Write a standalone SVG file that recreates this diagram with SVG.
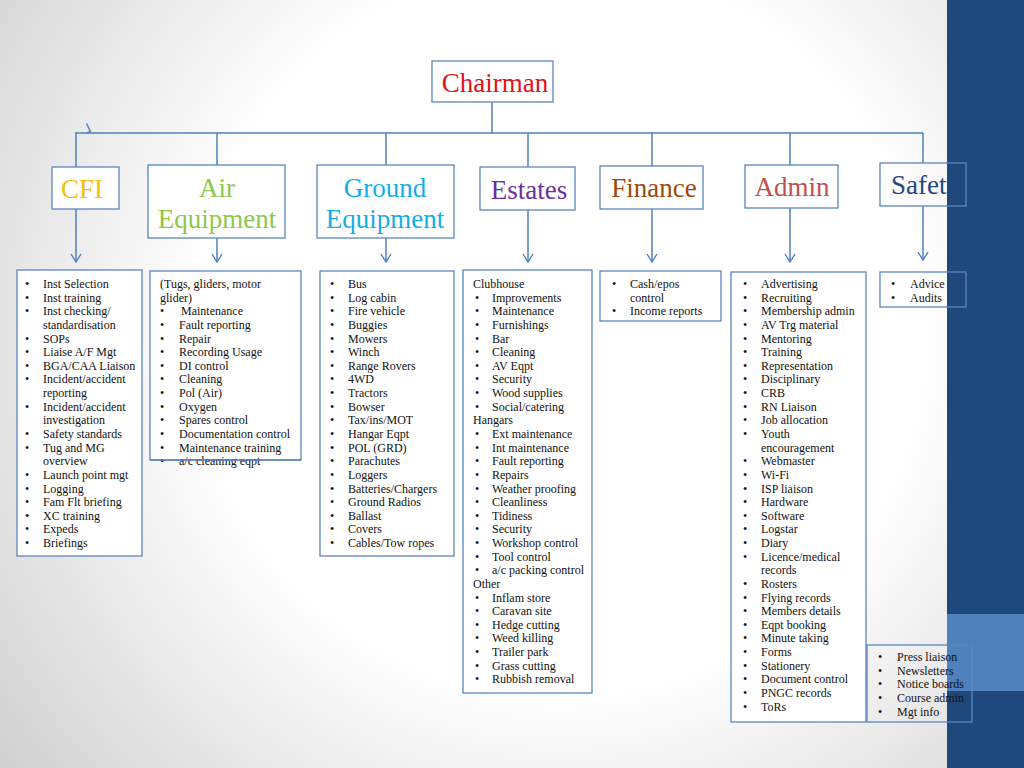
<svg xmlns="http://www.w3.org/2000/svg" width="1024" height="768" viewBox="0 0 1024 768">
<defs>
<radialGradient id="bg" cx="560" cy="330" r="720" gradientUnits="userSpaceOnUse">
<stop offset="0.5" stop-color="#ffffff"/>
<stop offset="1" stop-color="#cfcfcf"/>
</radialGradient>
<marker id="arr" viewBox="0 0 10 12" refX="9" refY="6" markerWidth="10" markerHeight="12" markerUnits="userSpaceOnUse" orient="auto">
<path d="M1,1 L9,6 L1,11" fill="none" stroke="#4f81bd" stroke-width="1.4"/>
</marker>
<style>
.box{fill:#ffffff;stroke:#5b86c0;stroke-width:1.3}
.lst{fill:none;stroke:#5b86c0;stroke-width:1.3}
.con{fill:none;stroke:#4f81bd;stroke-width:1.5}
.h{font-family:"Liberation Serif",serif;font-size:27px;text-anchor:middle}
.t{font-family:"Liberation Serif",serif;font-size:12px;fill:#111111}
</style>
</defs>
<rect width="1024" height="768" fill="url(#bg)"/>
<rect x="947" y="0" width="77" height="768" fill="#1f497d"/>
<rect x="947" y="614" width="77" height="77" fill="#4f81bd"/>

<g id="connectors">
<path class="con" d="M492,102 V133 M75,133 H923 M76,133 V167 M217,133 V165 M386,133 V165 M528,133 V167 M652,133 V166 M790,133 V165 M923,133 V163"/>
<path class="con" d="M86.5,123.5 L90.5,131.5 L87,133"/>
<path class="con" marker-end="url(#arr)" d="M76,209 V262"/>
<path class="con" marker-end="url(#arr)" d="M217,238 V262"/>
<path class="con" marker-end="url(#arr)" d="M386,238 V262"/>
<path class="con" marker-end="url(#arr)" d="M528,210 V262"/>
<path class="con" marker-end="url(#arr)" d="M652,209 V262"/>
<path class="con" marker-end="url(#arr)" d="M790,208 V262"/>
<path class="con" marker-end="url(#arr)" d="M923,206 V260"/>
</g>

<g id="chairman">
<rect class="box" x="432" y="61" width="121" height="41"/>
<text class="h" x="495" y="92" fill="#e3131b">Chairman</text>
</g>
<g id="cfi">
<rect class="box" x="52" y="167" width="67" height="42"/>
<text class="h" x="82" y="198" fill="#f5bf0f">CFI</text>
</g>
<g id="air-equipment">
<rect class="box" x="148" y="165" width="137" height="73"/>
<text class="h" x="217" y="197" fill="#8cc84b">Air</text>
<text class="h" x="217" y="228" fill="#8cc84b">Equipment</text>
</g>
<g id="ground-equipment">
<rect class="box" x="317" y="165" width="137" height="73"/>
<text class="h" x="385" y="197" fill="#14aee6">Ground</text>
<text class="h" x="385" y="228" fill="#14aee6">Equipment</text>
</g>
<g id="estates">
<rect class="box" x="480" y="167" width="95" height="43"/>
<text class="h" x="529" y="199" fill="#6b2fa0">Estates</text>
</g>
<g id="finance">
<rect class="box" x="600" y="166" width="103" height="43"/>
<text class="h" x="654" y="197" fill="#9a4a0c">Finance</text>
</g>
<g id="admin">
<rect class="box" x="745" y="165" width="93" height="43"/>
<text class="h" x="792" y="196" fill="#c0504d">Admin</text>
</g>
<g id="safety">
<rect class="lst" x="880" y="163" width="86" height="43"/>
<text class="h" x="891" y="194" fill="#1f497d" style="text-anchor:start">Safety</text>
</g>

<g id="cfi-list">
<rect class="box" x="17" y="270" width="125" height="286"/>
<text class="t">
<tspan x="25" y="288">•</tspan><tspan x="43">Inst Selection</tspan>
<tspan x="25" y="301.6">•</tspan><tspan x="43">Inst training</tspan>
<tspan x="25" y="315.3">•</tspan><tspan x="43">Inst checking/</tspan>
<tspan x="43" y="328.9">standardisation</tspan>
<tspan x="25" y="342.5">•</tspan><tspan x="43">SOPs</tspan>
<tspan x="25" y="356.2">•</tspan><tspan x="43">Liaise A/F Mgt</tspan>
<tspan x="25" y="369.8">•</tspan><tspan x="43">BGA/CAA Liaison</tspan>
<tspan x="25" y="383.4">•</tspan><tspan x="43">Incident/accident</tspan>
<tspan x="43" y="397">reporting</tspan>
<tspan x="25" y="410.7">•</tspan><tspan x="43">Incident/accident</tspan>
<tspan x="43" y="424.3">investigation</tspan>
<tspan x="25" y="437.9">•</tspan><tspan x="43">Safety standards</tspan>
<tspan x="25" y="451.6">•</tspan><tspan x="43">Tug and MG</tspan>
<tspan x="43" y="465.2">overview</tspan>
<tspan x="25" y="478.8">•</tspan><tspan x="43">Launch point mgt</tspan>
<tspan x="25" y="492.5">•</tspan><tspan x="43">Logging</tspan>
<tspan x="25" y="506.1">•</tspan><tspan x="43">Fam Flt briefing</tspan>
<tspan x="25" y="519.7">•</tspan><tspan x="43">XC training</tspan>
<tspan x="25" y="533.3">•</tspan><tspan x="43">Expeds</tspan>
<tspan x="25" y="547">•</tspan><tspan x="43">Briefings</tspan>
</text>
</g>

<g id="air-list">
<rect class="box" x="150" y="271" width="151" height="189"/>
<text class="t">
<tspan x="160" y="288">(Tugs, gliders, motor</tspan>
<tspan x="160" y="301.6">glider)</tspan>
<tspan x="160" y="315.3">•</tspan><tspan x="181">Maintenance</tspan>
<tspan x="160" y="328.9">•</tspan><tspan x="179">Fault reporting</tspan>
<tspan x="160" y="342.5">•</tspan><tspan x="179">Repair</tspan>
<tspan x="160" y="356.2">•</tspan><tspan x="179">Recording Usage</tspan>
<tspan x="160" y="369.8">•</tspan><tspan x="179">DI control</tspan>
<tspan x="160" y="383.4">•</tspan><tspan x="179">Cleaning</tspan>
<tspan x="160" y="397">•</tspan><tspan x="179">Pol (Air)</tspan>
<tspan x="160" y="410.7">•</tspan><tspan x="179">Oxygen</tspan>
<tspan x="160" y="424.3">•</tspan><tspan x="179">Spares control</tspan>
<tspan x="160" y="437.9">•</tspan><tspan x="179">Documentation control</tspan>
<tspan x="160" y="451.6">•</tspan><tspan x="179">Maintenance training</tspan>
<tspan x="160" y="465.2">•</tspan><tspan x="179">a/c cleaning eqpt</tspan>
</text>
<line x1="150" y1="460" x2="301" y2="460" stroke="#5b86c0" stroke-width="1.3"/>
</g>

<g id="ground-list">
<rect class="box" x="320" y="271" width="134" height="285"/>
<text class="t">
<tspan x="330" y="288">•</tspan><tspan x="348">Bus</tspan>
<tspan x="330" y="301.6">•</tspan><tspan x="348">Log cabin</tspan>
<tspan x="330" y="315.3">•</tspan><tspan x="348">Fire vehicle</tspan>
<tspan x="330" y="328.9">•</tspan><tspan x="348">Buggies</tspan>
<tspan x="330" y="342.5">•</tspan><tspan x="348">Mowers</tspan>
<tspan x="330" y="356.2">•</tspan><tspan x="348">Winch</tspan>
<tspan x="330" y="369.8">•</tspan><tspan x="348">Range Rovers</tspan>
<tspan x="330" y="383.4">•</tspan><tspan x="348">4WD</tspan>
<tspan x="330" y="397">•</tspan><tspan x="348">Tractors</tspan>
<tspan x="330" y="410.7">•</tspan><tspan x="348">Bowser</tspan>
<tspan x="330" y="424.3">•</tspan><tspan x="348">Tax/ins/MOT</tspan>
<tspan x="330" y="437.9">•</tspan><tspan x="348">Hangar Eqpt</tspan>
<tspan x="330" y="451.6">•</tspan><tspan x="348">POL (GRD)</tspan>
<tspan x="330" y="465.2">•</tspan><tspan x="348">Parachutes</tspan>
<tspan x="330" y="478.8">•</tspan><tspan x="348">Loggers</tspan>
<tspan x="330" y="492.5">•</tspan><tspan x="348">Batteries/Chargers</tspan>
<tspan x="330" y="506.1">•</tspan><tspan x="348">Ground Radios</tspan>
<tspan x="330" y="519.7">•</tspan><tspan x="348">Ballast</tspan>
<tspan x="330" y="533.3">•</tspan><tspan x="348">Covers</tspan>
<tspan x="330" y="547">•</tspan><tspan x="348">Cables/Tow ropes</tspan>
</text>
</g>

<g id="estates-list">
<rect class="box" x="463" y="270" width="129" height="423"/>
<text class="t">
<tspan x="473" y="288">Clubhouse</tspan>
<tspan x="475" y="301.6">•</tspan><tspan x="492">Improvements</tspan>
<tspan x="475" y="315.3">•</tspan><tspan x="492">Maintenance</tspan>
<tspan x="475" y="328.9">•</tspan><tspan x="492">Furnishings</tspan>
<tspan x="475" y="342.5">•</tspan><tspan x="492">Bar</tspan>
<tspan x="475" y="356.2">•</tspan><tspan x="492">Cleaning</tspan>
<tspan x="475" y="369.8">•</tspan><tspan x="492">AV Eqpt</tspan>
<tspan x="475" y="383.4">•</tspan><tspan x="492">Security</tspan>
<tspan x="475" y="397">•</tspan><tspan x="492">Wood supplies</tspan>
<tspan x="475" y="410.7">•</tspan><tspan x="492">Social/catering</tspan>
<tspan x="473" y="424.3">Hangars</tspan>
<tspan x="475" y="437.9">•</tspan><tspan x="492">Ext maintenance</tspan>
<tspan x="475" y="451.6">•</tspan><tspan x="492">Int maintenance</tspan>
<tspan x="475" y="465.2">•</tspan><tspan x="492">Fault reporting</tspan>
<tspan x="475" y="478.8">•</tspan><tspan x="492">Repairs</tspan>
<tspan x="475" y="492.5">•</tspan><tspan x="492">Weather proofing</tspan>
<tspan x="475" y="506.1">•</tspan><tspan x="492">Cleanliness</tspan>
<tspan x="475" y="519.7">•</tspan><tspan x="492">Tidiness</tspan>
<tspan x="475" y="533.3">•</tspan><tspan x="492">Security</tspan>
<tspan x="475" y="547">•</tspan><tspan x="492">Workshop control</tspan>
<tspan x="475" y="560.6">•</tspan><tspan x="492">Tool control</tspan>
<tspan x="475" y="574.2">•</tspan><tspan x="492">a/c packing control</tspan>
<tspan x="473" y="587.9">Other</tspan>
<tspan x="475" y="601.5">•</tspan><tspan x="492">Inflam store</tspan>
<tspan x="475" y="615.1">•</tspan><tspan x="492">Caravan site</tspan>
<tspan x="475" y="628.8">•</tspan><tspan x="492">Hedge cutting</tspan>
<tspan x="475" y="642.4">•</tspan><tspan x="492">Weed killing</tspan>
<tspan x="475" y="656">•</tspan><tspan x="492">Trailer park</tspan>
<tspan x="475" y="669.7">•</tspan><tspan x="492">Grass cutting</tspan>
<tspan x="475" y="683.3">•</tspan><tspan x="492">Rubbish removal</tspan>
</text>
</g>

<g id="finance-list">
<rect class="box" x="600" y="271" width="121" height="50"/>
<text class="t">
<tspan x="612" y="288">•</tspan><tspan x="630">Cash/epos</tspan>
<tspan x="630" y="301.6">control</tspan>
<tspan x="612" y="315.3">•</tspan><tspan x="630">Income reports</tspan>
</text>
</g>

<g id="admin-list">
<rect class="box" x="731" y="272" width="135" height="450"/>
<text class="t">
<tspan x="743" y="288">•</tspan><tspan x="761">Advertising</tspan>
<tspan x="743" y="301.6">•</tspan><tspan x="761">Recruiting</tspan>
<tspan x="743" y="315.3">•</tspan><tspan x="761">Membership admin</tspan>
<tspan x="743" y="328.9">•</tspan><tspan x="761">AV Trg material</tspan>
<tspan x="743" y="342.5">•</tspan><tspan x="761">Mentoring</tspan>
<tspan x="743" y="356.2">•</tspan><tspan x="761">Training</tspan>
<tspan x="743" y="369.8">•</tspan><tspan x="761">Representation</tspan>
<tspan x="743" y="383.4">•</tspan><tspan x="761">Disciplinary</tspan>
<tspan x="743" y="397">•</tspan><tspan x="761">CRB</tspan>
<tspan x="743" y="410.7">•</tspan><tspan x="761">RN Liaison</tspan>
<tspan x="743" y="424.3">•</tspan><tspan x="761">Job allocation</tspan>
<tspan x="743" y="437.9">•</tspan><tspan x="761">Youth</tspan>
<tspan x="761" y="451.6">encouragement</tspan>
<tspan x="743" y="465.2">•</tspan><tspan x="761">Webmaster</tspan>
<tspan x="743" y="478.8">•</tspan><tspan x="761">Wi-Fi</tspan>
<tspan x="743" y="492.5">•</tspan><tspan x="761">ISP liaison</tspan>
<tspan x="743" y="506.1">•</tspan><tspan x="761">Hardware</tspan>
<tspan x="743" y="519.7">•</tspan><tspan x="761">Software</tspan>
<tspan x="743" y="533.3">•</tspan><tspan x="761">Logstar</tspan>
<tspan x="743" y="547">•</tspan><tspan x="761">Diary</tspan>
<tspan x="743" y="560.6">•</tspan><tspan x="761">Licence/medical</tspan>
<tspan x="761" y="574.2">records</tspan>
<tspan x="743" y="587.9">•</tspan><tspan x="761">Rosters</tspan>
<tspan x="743" y="601.5">•</tspan><tspan x="761">Flying records</tspan>
<tspan x="743" y="615.1">•</tspan><tspan x="761">Members details</tspan>
<tspan x="743" y="628.8">•</tspan><tspan x="761">Eqpt booking</tspan>
<tspan x="743" y="642.4">•</tspan><tspan x="761">Minute taking</tspan>
<tspan x="743" y="656">•</tspan><tspan x="761">Forms</tspan>
<tspan x="743" y="669.7">•</tspan><tspan x="761">Stationery</tspan>
<tspan x="743" y="683.3">•</tspan><tspan x="761">Document control</tspan>
<tspan x="743" y="696.9">•</tspan><tspan x="761">PNGC records</tspan>
<tspan x="743" y="710.6">•</tspan><tspan x="761">ToRs</tspan>
</text>
</g>

<g id="safety-list">
<rect class="lst" x="880" y="272" width="86" height="35"/>
<text class="t">
<tspan x="891" y="288">•</tspan><tspan x="910">Advice</tspan>
<tspan x="891" y="302">•</tspan><tspan x="910">Audits</tspan>
</text>
</g>

<g id="press-list">
<rect class="lst" x="867" y="645" width="105" height="77"/>
<text class="t">
<tspan x="878" y="661">•</tspan><tspan x="897">Press liaison</tspan>
<tspan x="878" y="674.6">•</tspan><tspan x="897">Newsletters</tspan>
<tspan x="878" y="688.2">•</tspan><tspan x="897">Notice boards</tspan>
<tspan x="878" y="701.9">•</tspan><tspan x="897">Course admin</tspan>
<tspan x="878" y="715.5">•</tspan><tspan x="897">Mgt info</tspan>
</text>
</g>
</svg>
